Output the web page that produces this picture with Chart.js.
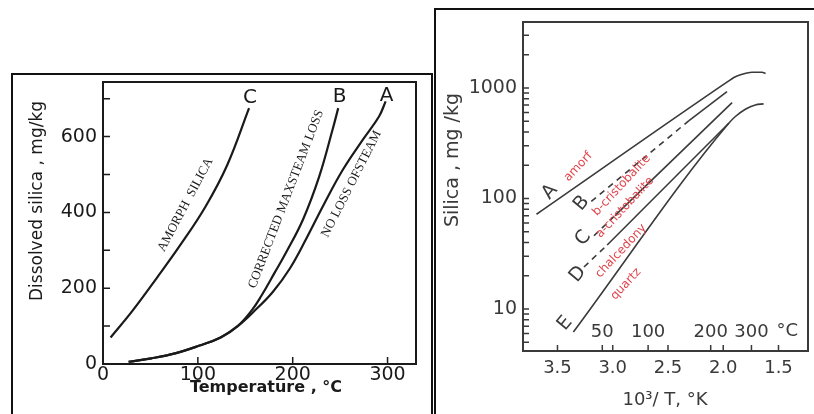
<!DOCTYPE html>
<html>
<head>
<meta charset="utf-8">
<script src="https://cdn.jsdelivr.net/npm/chart.js@4.4.0/dist/chart.umd.min.js"></script>
<style>
  html, body { margin: 0; padding: 0; background: #fff; }
  body { width: 814px; height: 414px; position: relative; overflow: hidden; }
  .box { position: absolute; border: 2px solid #111; border-bottom: none; box-sizing: border-box; }
  #boxL { left: 11px; top: 73px; width: 422px; height: 341px; }
  #boxR { left: 434px; top: 8px; width: 400px; height: 406px; border-right: none; }
  canvas { position: absolute; }
  #chartL { left: 0; top: 0; }
  #chartR { left: 435px; top: 0; }
</style>
</head>
<body>
<div class="box" id="boxL"></div>
<div class="box" id="boxR"></div>
<canvas id="chartL" width="432" height="414"></canvas>
<canvas id="chartR" width="379" height="414"></canvas>
<script>
// --- left chart: dissolved silica vs temperature ---
const tempNoLoss = [27, 51, 76, 101, 124, 142, 158, 179, 197, 214, 232, 253, 274, 291, 298];
const silicaNoLoss = [6, 15, 28, 48, 70, 100, 136, 190, 252, 329, 417, 513, 592, 653, 693];
const tempCorrected = [27, 51, 76, 101, 124, 142, 157, 167, 181, 193, 211, 228, 242, 248];
const silicaCorrected = [6, 15, 28, 48, 70, 100, 142, 180, 241, 294, 382, 495, 618, 675];
const tempAmorph = [8, 31, 57, 81, 108, 131, 154];
const silicaAmorph = [70, 140, 228, 312, 415, 525, 675];
const xTicksL = [0, 100, 200, 300];
const yTicksL = [0, 100, 200, 300, 400, 500, 600, 700];
const yLabelsL = [0, 200, 400, 600];

// --- right chart: log silica vs 10^3/T ---
const invTA = [3.69, 1.96, 1.90, 1.83, 1.74, 1.65, 1.617];
const silA = [72, 1140, 1250, 1330, 1390, 1390, 1355];
const invTB = [3.194, 2.31, 1.966];
const silB = [94, 507, 926];
const invTC = [3.17, 2.98, 1.92];
const silC = [46, 70, 738];
const invTD = [3.26, 3.05, 1.95];
const silD = [24, 38, 480];
const invTE = [3.356, 1.95, 1.89, 1.80, 1.71, 1.635];
const silE = [6.2, 480, 552, 643, 703, 718];
const xTicksR = [3.5, 3.0, 2.5, 2.0, 1.5];
const yTicksR = [5, 6, 7, 8, 9, 10, 20, 30, 40, 50, 60, 70, 80, 90, 100,
  200, 300, 400, 500, 600, 700, 800, 900, 1000, 2000, 3000];
const yLabelsR = [10, 100, 1000];
const tempLabelsR = [50, 100, 200, 300];

function pts(xs, ys) {
  return xs.map((x, i) => ({ x: x, y: ys[i] }));
}
function invT(c) {
  return 1000 / (c + 273.15);
}

// frame, inward ticks and free text (positions in data units unless px)
function makeDecor(cfg) {
  return {
    id: 'decor',
    afterDraw(chart) {
      const ctx = chart.ctx;
      const a = chart.chartArea;
      const x = chart.scales.x;
      const y = chart.scales.y;
      ctx.save();
      ctx.strokeStyle = cfg.color;
      ctx.lineWidth = cfg.frameWidth;
      ctx.strokeRect(a.left, a.top, a.right - a.left, a.bottom - a.top);
      ctx.lineWidth = 1.5;
      ctx.beginPath();
      cfg.yTicks.forEach(v => {
        const py = y.getPixelForValue(v);
        ctx.moveTo(a.left, py);
        ctx.lineTo(a.left + cfg.tickLen, py);
      });
      cfg.xTicks.forEach(v => {
        const px = x.getPixelForValue(v);
        ctx.moveTo(px, a.bottom);
        ctx.lineTo(px, a.bottom - cfg.tickLen);
      });
      ctx.stroke();
      cfg.texts.forEach(t => {
        const px = t.px ? t.at[0] : x.getPixelForValue(t.at[0]);
        const py = t.px ? t.at[1] : y.getPixelForValue(t.at[1]);
        ctx.save();
        ctx.translate(px, py);
        ctx.rotate((t.rot || 0) * Math.PI / 180);
        ctx.font = t.font;
        ctx.fillStyle = t.color || cfg.color;
        ctx.textAlign = 'center';
        ctx.textBaseline = 'middle';
        ctx.fillText(t.text, 0, 0);
        ctx.restore();
      });
      ctx.restore();
    }
  };
}

const serif = '13px "Liberation Serif"';
const leftChart = new Chart(document.getElementById('chartL'), {
  type: 'line',
  data: {
    datasets: [
      { data: pts(tempNoLoss, silicaNoLoss) },
      { data: pts(tempCorrected, silicaCorrected) },
      { data: pts(tempAmorph, silicaAmorph) }
    ].map(d => Object.assign(d, {
      borderColor: '#1a1a1a', borderWidth: 2.2, pointRadius: 0,
      tension: 0.4, fill: false
    }))
  },
  options: {
    responsive: false,
    animation: false,
    layout: { padding: { left: 0, top: 82, right: 16, bottom: 0 } },
    plugins: { legend: { display: false }, tooltip: { enabled: false } },
    scales: {
      x: {
        type: 'linear', min: 0, max: 330,
        afterFit(s) { s.height = 50; },
        afterBuildTicks(s) { s.ticks = xTicksL.map(v => ({ value: v })); },
        grid: { display: false, drawTicks: false },
        border: { display: false },
        ticks: {
          padding: 0, autoSkip: false, maxRotation: 0, color: '#1a1a1a',
          font: { family: 'DejaVu Sans', size: 19 },
          callback: v => String(v)
        }
      },
      y: {
        type: 'linear', min: 0, max: 744,
        afterFit(s) { s.width = 103; },
        afterBuildTicks(s) { s.ticks = yTicksL.map(v => ({ value: v })); },
        grid: { display: false, drawTicks: false },
        border: { display: false },
        ticks: {
          padding: 6, autoSkip: false, color: '#1a1a1a',
          font: { family: 'DejaVu Sans', size: 19 },
          callback: v => yLabelsL.includes(v) ? String(v) : ''
        }
      }
    }
  },
  plugins: [makeDecor({
    color: '#1a1a1a', frameWidth: 2, tickLen: 7,
    xTicks: [100, 200, 300], yTicks: [100, 200, 300, 400, 500, 600, 700],
    texts: [
      { text: 'Dissolved silica , mg/kg', at: [38, 201], px: true, rot: -90, font: '17px "DejaVu Sans"' },
      { text: 'Temperature , °C', at: [266, 388], px: true, font: 'bold 16px "DejaVu Sans"' },
      { text: 'C', at: [155, 702], font: '20px "DejaVu Sans"' },
      { text: 'B', at: [249.5, 704], font: '20px "DejaVu Sans"' },
      { text: 'A', at: [299, 707], font: '20px "DejaVu Sans"' },
      { text: 'AMORPH  SILICA', at: [87, 420], rot: -62, font: serif },
      { text: 'CORRECTED MAXSTEAM LOSS', at: [193, 435], rot: -69, font: serif },
      { text: 'NO LOSS OFSTEAM', at: [262, 475], rot: -63, font: serif }
    ]
  })]
});

const lineR = {
  borderColor: '#3a3a3a', borderWidth: 1.6, pointRadius: 0, fill: false
};
const dashFirst = { borderDash: c => c.p0DataIndex < 1 ? [6, 5] : undefined };
const red = '#e0454c';
const redFont = '12px "DejaVu Sans"';
const letterFont = '19px "DejaVu Sans"';
const rightChart = new Chart(document.getElementById('chartR'), {
  type: 'line',
  data: {
    datasets: [
      Object.assign({ data: pts(invTA, silA), cubicInterpolationMode: 'monotone' }, lineR),
      Object.assign({ data: pts(invTB, silB), segment: dashFirst }, lineR),
      Object.assign({ data: pts(invTC, silC), segment: dashFirst }, lineR),
      Object.assign({ data: pts(invTD, silD), segment: dashFirst }, lineR),
      Object.assign({ data: pts(invTE, silE), cubicInterpolationMode: 'monotone' }, lineR)
    ]
  },
  options: {
    responsive: false,
    animation: false,
    layout: { padding: { left: 0, top: 22, right: 6, bottom: 0 } },
    plugins: { legend: { display: false }, tooltip: { enabled: false } },
    scales: {
      x: {
        type: 'linear', reverse: true, min: 1.233, max: 3.812,
        afterFit(s) { s.height = 63; },
        afterBuildTicks(s) { s.ticks = xTicksR.map(v => ({ value: v })); },
        grid: { display: false, drawTicks: false },
        border: { display: false },
        ticks: {
          padding: 7, autoSkip: false, maxRotation: 0, color: '#3a3a3a',
          font: { family: 'DejaVu Sans', size: 18 },
          callback: v => v.toFixed(1)
        }
      },
      y: {
        type: 'logarithmic', min: 4.17, max: 3955,
        afterFit(s) { s.width = 88; },
        afterBuildTicks(s) { s.ticks = yTicksR.map(v => ({ value: v })); },
        grid: { display: false, drawTicks: false },
        border: { display: false },
        ticks: {
          padding: 6, autoSkip: false, color: '#3a3a3a',
          font: { family: 'DejaVu Sans', size: 19 },
          callback: v => yLabelsR.includes(v) ? String(v) : ''
        }
      }
    }
  },
  plugins: [makeDecor({
    color: '#3a3a3a', frameWidth: 2, tickLen: 6,
    xTicks: xTicksR.concat(tempLabelsR.map(invT)),
    yTicks: yTicksR,
    texts: [
      { text: 'Silica , mg /kg', at: [18, 160], px: true, rot: -90, font: '19px "DejaVu Sans"' },
      { text: '10³/ T, °K', at: [230, 400], px: true, font: '18px "DejaVu Sans"' },
      { text: 'A', at: [3.568, 115], rot: -50, font: letterFont },
      { text: 'B', at: [3.281, 90.6], rot: -50, font: letterFont },
      { text: 'C', at: [3.267, 43.6], rot: -50, font: letterFont },
      { text: 'D', at: [3.314, 20.7], rot: -50, font: letterFont },
      { text: 'E', at: [3.432, 7.4], rot: -50, font: letterFont },
      { text: 'amorf', at: [3.312, 194], rot: -47, font: redFont, color: red },
      { text: 'b-cristobalite', at: [2.919, 132], rot: -47, font: redFont, color: red },
      { text: 'a-cristobalite', at: [2.889, 83], rot: -47, font: redFont, color: red },
      { text: 'chalcedony', at: [2.925, 33.5], rot: -47, font: redFont, color: red },
      { text: 'quartz', at: [2.880, 16.8], rot: -47, font: redFont, color: red }
    ].concat(tempLabelsR.map(c => ({
      text: String(c), at: [invT(c), 6.1], font: '18px "DejaVu Sans"'
    }))).concat([
      { text: '°C', at: [1.42, 6.3], font: '18px "DejaVu Sans"' }
    ])
  })]
});
</script>
</body>
</html>
